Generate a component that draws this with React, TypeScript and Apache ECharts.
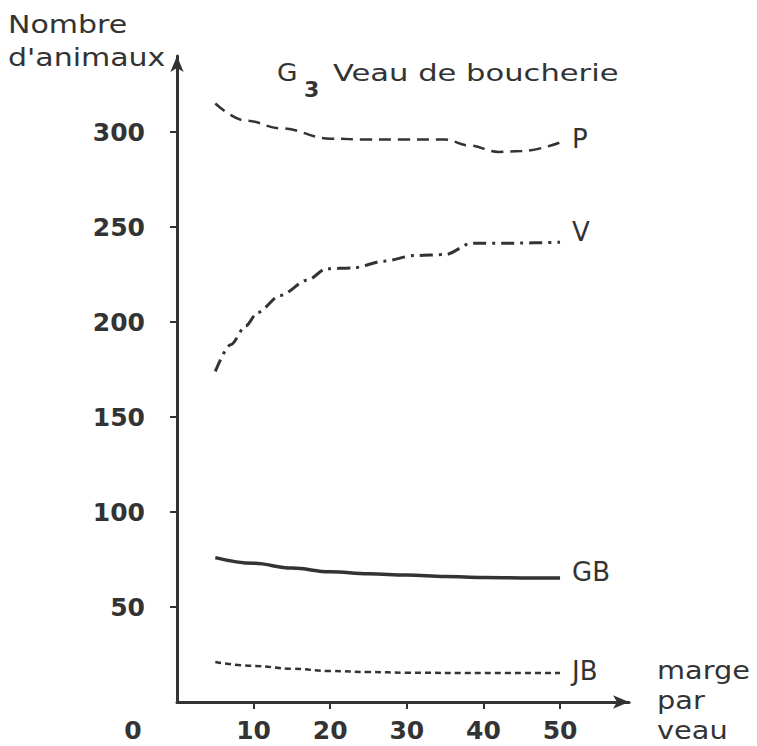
import React, { useEffect, useRef } from 'react';
import * as echarts from 'echarts';

// Series data (x = marge par veau, y = nombre d'animaux)
const P_X = [5, 9, 13.5, 20, 25, 30, 35, 38, 42, 45, 50];
const P_Y = [315, 306, 302, 296.5, 296, 296, 296, 293, 289.5, 290, 294.5];
const V_X = [5, 7, 9, 10.5, 13.5, 17, 19.5, 23, 27, 31, 35, 38.5, 44, 50];
const V_Y = [174, 188, 198, 205, 214, 222, 228, 228.5, 232, 235, 235.5, 241.5, 241.5, 242];
const GB_X = [5, 10, 15, 20, 25, 30, 35, 40, 45, 50];
const GB_Y = [76, 73, 70.5, 68.5, 67.5, 66.8, 66, 65.5, 65.3, 65.3];
const JB_X = [5, 10, 15, 20, 25, 30, 40, 50];
const JB_Y = [21, 19, 17.5, 16.3, 15.8, 15.4, 15.2, 15.2];

const SERIES_NAMES = ['P', 'V', 'GB', 'JB'];
const X_TICKS = [10, 20, 30, 40, 50];
const Y_TICKS = [50, 100, 150, 200, 250, 300];

const INK = '#333333';
const FONT = 'DejaVu Sans';

const zip = (xs: number[], ys: number[]) => xs.map((x, i) => [x, ys[i]]);

export default function App() {
  const ref = useRef<HTMLDivElement>(null);

  useEffect(() => {
    if (!ref.current) return;
    const chart = echarts.init(ref.current, null, { renderer: 'svg' });

    const endLabel = (dy: number) => ({
      show: true,
      formatter: '{a}',
      distance: 12,
      offset: [0, dy],
      color: INK,
      fontFamily: FONT,
      fontSize: 26,
    });

    const text = (t: string, x: number, y: number, size: number, opts: any = {}) => ({
      type: 'text',
      x,
      y,
      scaleX: opts.scaleX ?? 1,
      style: {
        text: t,
        x: 0,
        y: 0,
        fill: INK,
        font: `${opts.bold ? 'bold ' : ''}${size}px "${FONT}"`,
        align: opts.align ?? 'left',
        textAlign: opts.align ?? 'left',
        verticalAlign: 'middle',
        textVerticalAlign: 'middle',
      },
    });

    const option: any = {
      animation: false,
      backgroundColor: '#ffffff',
      grid: { left: 177, right: 128, top: 56, bottom: 44, containLabel: false },
      xAxis: {
        type: 'value',
        min: 0,
        max: 59,
        interval: 10,
        axisLine: {
          show: true,
          symbol: ['none', 'arrow'],
          symbolSize: [10, 16],
          lineStyle: { color: INK, width: 3 },
        },
        axisTick: {
          show: true,
          customValues: X_TICKS,
          length: 7,
          lineStyle: { color: INK, width: 2 },
        },
        axisLabel: {
          customValues: X_TICKS,
          margin: 16,
          color: INK,
          fontFamily: FONT,
          fontWeight: 'bold',
          fontSize: 25,
        },
        splitLine: { show: false },
      },
      yAxis: {
        type: 'value',
        min: 0,
        max: 340,
        interval: 50,
        axisLine: {
          show: true,
          symbol: ['none', 'arrow'],
          symbolSize: [10, 16],
          lineStyle: { color: INK, width: 3 },
        },
        axisTick: {
          show: true,
          customValues: Y_TICKS,
          length: 7,
          lineStyle: { color: INK, width: 2 },
        },
        axisLabel: {
          customValues: Y_TICKS,
          margin: 32,
          color: INK,
          fontFamily: FONT,
          fontWeight: 'bold',
          fontSize: 25,
        },
        splitLine: { show: false },
      },
      series: [
        {
          name: SERIES_NAMES[0],
          type: 'line',
          data: zip(P_X, P_Y),
          smooth: 0.4,
          smoothMonotone: 'x',
          showSymbol: false,
          lineStyle: { color: INK, width: 2.5, type: [12, 7] },
          endLabel: endLabel(-3),
        },
        {
          name: SERIES_NAMES[1],
          type: 'line',
          data: zip(V_X, V_Y),
          smooth: 0.3,
          smoothMonotone: 'x',
          showSymbol: false,
          lineStyle: { color: INK, width: 3, type: [13, 6, 3, 6] },
          endLabel: endLabel(-10),
        },
        {
          name: SERIES_NAMES[2],
          type: 'line',
          data: zip(GB_X, GB_Y),
          smooth: 0.4,
          smoothMonotone: 'x',
          showSymbol: false,
          lineStyle: { color: INK, width: 3.5, type: 'solid' },
          endLabel: endLabel(-6),
        },
        {
          name: SERIES_NAMES[3],
          type: 'line',
          data: zip(JB_X, JB_Y),
          smooth: 0.4,
          smoothMonotone: 'x',
          showSymbol: false,
          lineStyle: { color: INK, width: 2.5, type: [6, 4] },
          endLabel: endLabel(-2),
        },
      ],
      graphic: [
        text('Nombre', 8, 25, 24, { scaleX: 1.25 }),
        text("d'animaux", 8, 58, 24, { scaleX: 1.25 }),
        text('G', 277, 73, 24, { scaleX: 1.1 }),
        text('3', 304, 89, 22, { bold: true }),
        text('Veau de boucherie', 333, 73, 23, { scaleX: 1.33 }),
        text('0', 133, 730, 25, { bold: true, align: 'center' }),
        text('marge', 657, 670, 24, { scaleX: 1.2 }),
        text('par', 657, 700, 24, { scaleX: 1.2 }),
        text('veau', 657, 730, 24, { scaleX: 1.2 }),
      ],
    };

    chart.setOption(option);
    return () => chart.dispose();
  }, []);

  return (
    <div
      ref={ref}
      style={{ position: 'fixed', left: 0, top: 0, width: 757, height: 746, background: '#fff' }}
    />
  );
}
